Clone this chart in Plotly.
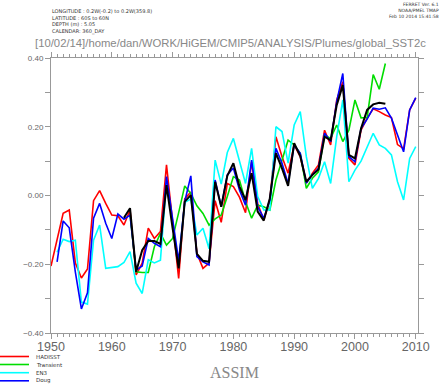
import plotly.graph_objects as go

years = list(range(1950, 2011))

hadisst = [-0.205, -0.125, -0.052, -0.042, -0.196, -0.240, -0.214, -0.015, 0.014, -0.023,
           -0.057, -0.059, -0.086, -0.042, -0.231, -0.197, -0.095, -0.125, -0.105, 0.089,
           -0.076, -0.241, -0.010, 0.010, -0.168, -0.212, -0.197, -0.015, -0.078, 0.035,
           0.026, -0.005, -0.050, 0.098, -0.023, -0.071, -0.013, 0.171, 0.113, 0.065,
           0.147, 0.113, 0.036, 0.065, 0.089, 0.190, 0.147, 0.278, 0.331, 0.108,
           0.089, 0.190, 0.225, 0.252, 0.244, 0.234, 0.227, 0.148, 0.136, 0.249,
           0.283]

doug_years = list(range(1951, 2011))
doug = [-0.193, -0.074, -0.094, -0.222, -0.330, -0.283, -0.066, -0.023, -0.081,
        -0.125, -0.054, -0.069, -0.057, -0.217, -0.205, -0.125, -0.139, -0.149, 0.055,
        -0.070, -0.190, -0.018, 0.057, -0.178, -0.193, -0.202, 0.045, -0.033, 0.060,
        0.080, 0.016, -0.028, 0.103, -0.033, -0.066, -0.013, 0.137, 0.094, 0.035,
        0.147, 0.123, 0.036, 0.060, 0.079, 0.181, 0.157, 0.273, 0.355, 0.113,
        0.098, 0.195, 0.222, 0.254, 0.251, 0.255, 0.225, 0.176, 0.127, 0.249,
        0.285]

en3_years = list(range(1951, 2011))
en3 = [-0.165, -0.127, -0.134, -0.130, -0.310, -0.316, -0.130, -0.086, -0.212,
       -0.209, -0.207, -0.195, -0.163, -0.255, -0.285, -0.187, -0.196, -0.188, 0.040,
       -0.080, -0.200, -0.020, -0.010, -0.115, -0.095, -0.155, 0.103, 0.033, 0.125,
       0.166, 0.103, 0.035, 0.137, -0.003, -0.042, -0.042, 0.200, 0.186, 0.094,
       0.205, 0.244, 0.113, 0.021, 0.050, 0.098, 0.035, 0.171, 0.278, 0.040,
       0.074, 0.100, 0.142, 0.181, 0.147, 0.137, 0.118, 0.040, -0.013, 0.108,
       0.142]

transient_years = list(range(1963, 2006))
transient = [-0.055, -0.222, -0.224, -0.224, -0.149, -0.110, -0.144, -0.125, -0.050,
             0.028, 0.006, -0.030, -0.052, -0.086, -0.068, -0.057, -0.003, 0.055, 0.045,
             -0.018, -0.066, -0.028, -0.033, -0.042, 0.045, 0.103, 0.161, 0.147, 0.123,
             0.021, 0.050, 0.069, 0.176, 0.166, 0.205, 0.157, 0.190, 0.278, 0.226,
             0.227, 0.352, 0.309, 0.384]

mean_years = list(range(1962, 2006))
ens_mean = [-0.065, -0.037, -0.222, -0.159, -0.132, -0.132, -0.141, 0.030, -0.095,
            -0.212, -0.018, 0.001, -0.170, -0.190, -0.193, 0.040, -0.033, 0.057, 0.094,
            0.026, -0.013, 0.065, -0.047, -0.073, -0.008, 0.123, 0.079, 0.028, 0.152,
            0.115, 0.040, 0.060, 0.076, 0.171, 0.161, 0.263, 0.321, 0.118, 0.108,
            0.195, 0.249, 0.265, 0.270, 0.267]

x_tick_vals = [1950, 1960, 1970, 1980, 1990, 2000, 2010]
x_tick_text = ["1950", "1960", "1970", "1980", "1990", "2000", "2010"]
y_tick_vals = [-0.4, -0.2, 0.0, 0.2, 0.4]

legend_names = ["HADISST", "Transient", "EN3", "Doug"]
legend_colors = ["#ff0000", "#00dd00", "#00ffff", "#0000ff"]

series = [
    (years, hadisst, "#ff0000", 1.6),
    (transient_years, transient, "#00dd00", 1.6),
    (en3_years, en3, "#00ffff", 1.6),
    (doug_years, doug, "#0000ff", 1.6),
    (mean_years, ens_mean, "#000000", 2.0),
]

fig = go.Figure()
for xs, ys, col, w in series:
    fig.add_trace(go.Scatter(x=xs, y=ys, mode="lines",
                             line=dict(color=col, width=w), showlegend=False,
                             hoverinfo="skip"))

axis_col = "#999999"
lab_col = "#666666"

fig.update_xaxes(range=[1950, 2010.37], tickmode="array", tickvals=x_tick_vals,
                 ticktext=x_tick_text, ticks="outside", ticklen=5, tickwidth=1,
                 tickcolor=axis_col, showline=True, linecolor=axis_col, linewidth=1,
                 mirror="allticks", showgrid=False, zeroline=False,
                 ticklabelstandoff=-3,
                 tickfont=dict(family="Liberation Sans", size=12.5, color=lab_col),
                 minor=dict(dtick=1, tick0=1950, ticks="outside", ticklen=3,
                            tickcolor=axis_col, showgrid=False))
fig.update_yaxes(range=[-0.4, 0.4], tickmode="array", tickvals=y_tick_vals,
                 tickformat=".2f", ticks="outside", ticklen=5, tickwidth=1,
                 tickcolor=axis_col, showline=True, linecolor=axis_col, linewidth=1,
                 mirror="allticks", showgrid=False, zeroline=False,
                 tickfont=dict(family="Liberation Sans", size=8, color=lab_col),
                 minor=dict(dtick=0.1, tick0=0, ticks="outside", ticklen=5,
                            tickcolor=axis_col, showgrid=False))

annotations = [
    dict(text="LONGITUDE : 0.2W(-0.2) to 0.2W(359.8)<br>LATITUDE : 60S to 60N<br>"
              "DEPTH (m) : 5.05<br>CALENDAR: 360_DAY",
         x=50, y=6, xanchor="left", yanchor="top", align="left",
         font=dict(family="DejaVu Sans", size=5, color="#333333")),
    dict(text="FERRET Ver. 6.1<br>NOAA/PMEL TMAP<br>Feb 10 2014 15:41:58",
         x=441, y=0, xanchor="right", yanchor="top", align="right",
         font=dict(family="DejaVu Sans", size=4.5, color="#333333")),
    dict(text="[10/02/14]/home/dan/WORK/HiGEM/CMIP5/ANALYSIS/Plumes/global_SST2c",
         x=33, y=43, xanchor="left", yanchor="middle", align="left",
         font=dict(family="Liberation Sans", size=11.3, color="#888888")),
    dict(text="ASSIM", x=234, y=372, xanchor="center", yanchor="middle",
         font=dict(family="Liberation Serif", size=16, color="#888888")),
]

shapes = []
W, H = 441, 384
leg_y = [356.5, 364.5, 372.7, 380.8]
for name, col, yy in zip(legend_names, legend_colors, leg_y):
    shapes.append(dict(type="line", xref="paper", yref="paper",
                       x0=(0 - 51) / 367, x1=(29 - 51) / 367,
                       y0=(333 - yy) / 275, y1=(333 - yy) / 275,
                       line=dict(color=col, width=1.6)))
    annotations.append(dict(text=name, x=34, y=yy, xanchor="left", yanchor="middle",
                            font=dict(family="DejaVu Sans", size=5.5, color="#333333")))

# convert pixel annotations to paper coordinates
for a in annotations:
    px, py = a["x"], a["y"]
    a["x"] = (px - 51) / 367
    a["y"] = (333 - py) / 275
    a["xref"] = "paper"
    a["yref"] = "paper"
    a["showarrow"] = False

fig.update_layout(width=W, height=H, margin=dict(l=51, r=23, t=58, b=51),
                  plot_bgcolor="white", paper_bgcolor="white",
                  annotations=annotations, shapes=shapes, showlegend=False)

fig.write_html("out.html", config={"displayModeBar": False},
               post_script="document.body.style.margin='0';")
